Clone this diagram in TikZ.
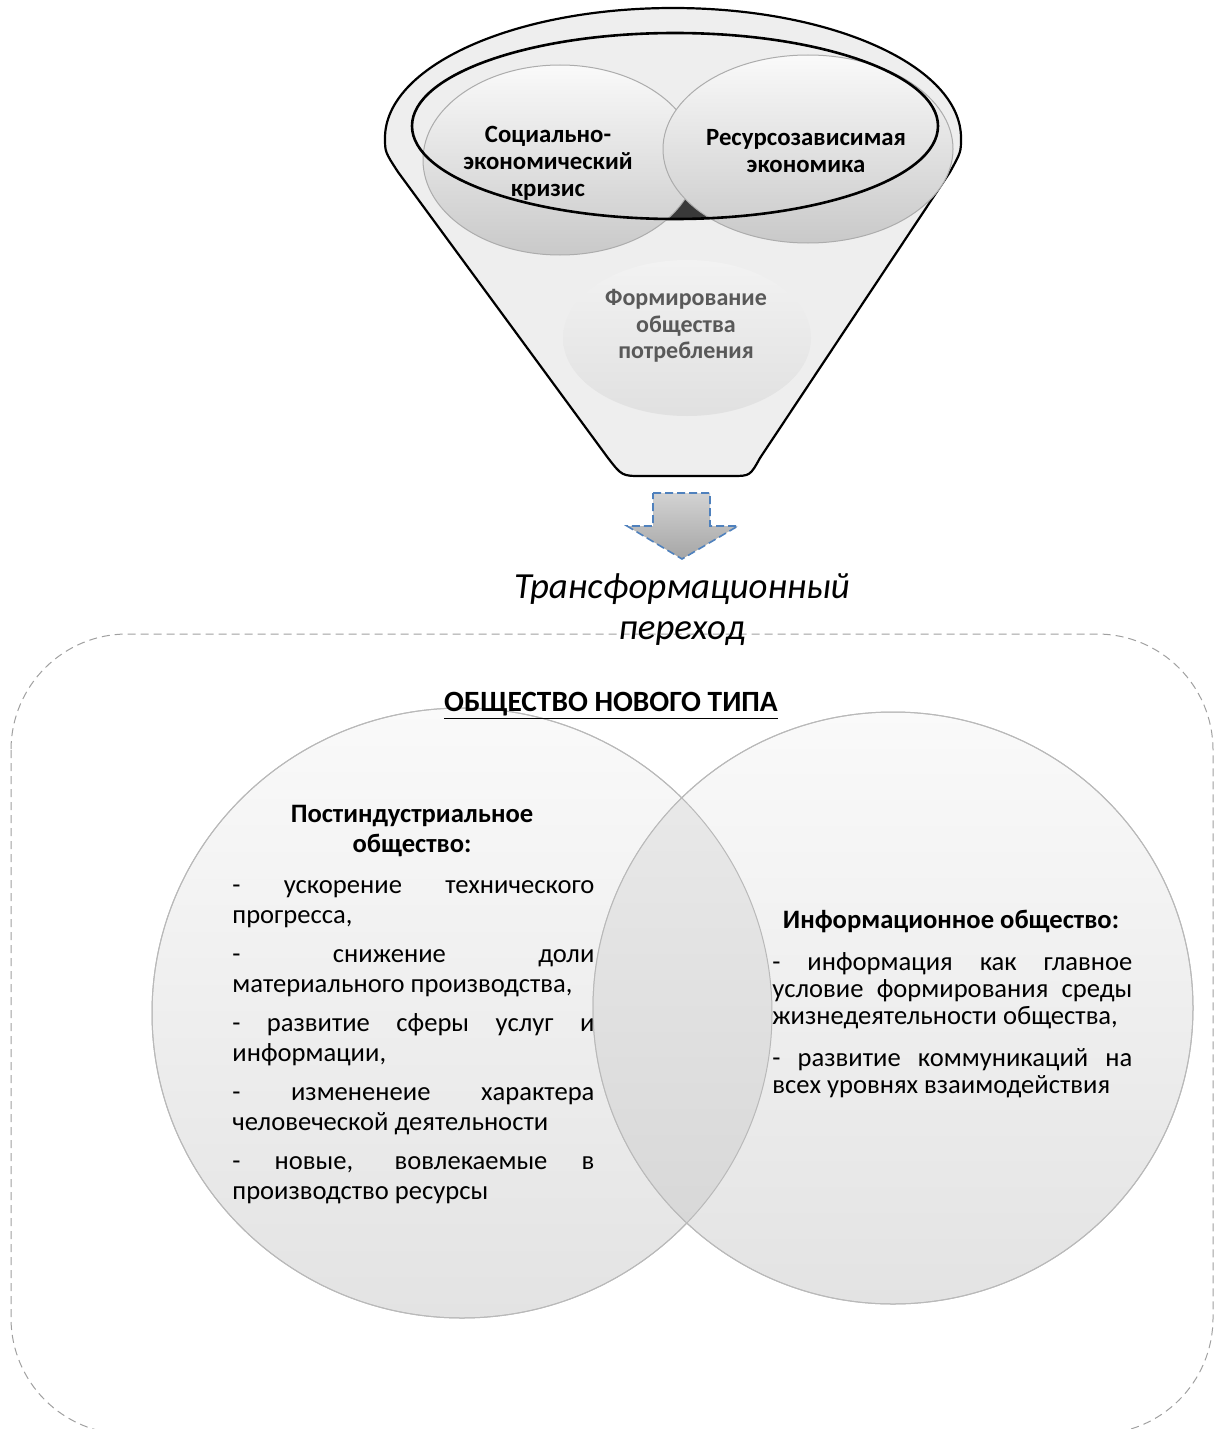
\documentclass[tikz,border=0pt]{standalone}
\usepackage{fontspec}
\setmainfont{Carlito}
\usetikzlibrary{positioning}

\definecolor{funnelgray}{HTML}{EEEEEE}
\definecolor{ballgray}{HTML}{C9C9C9}
\definecolor{textgray}{HTML}{595959}
\definecolor{dashgray}{HTML}{A0A0A0}
\definecolor{arrowblue}{HTML}{4F81BD}

\tikzset{
  funnelline/.style={draw=black, line width=1.1pt, line join=round},
  ball/.style={top color=gray!4, bottom color=ballgray, draw=gray!65, line width=0.5pt},
  balltext/.style={font=\fontsize{12.4}{13.5}\selectfont\bfseries, align=center},
  bigball/.style={top color=gray!4, bottom color=gray!22, draw=gray!55, line width=0.5pt},
  headtext/.style={font=\fontsize{13.3}{15}\selectfont\bfseries, align=center},
  bodytext/.style={font=\fontsize{13.3}{15}\selectfont, text width=181pt, align=justify, inner sep=0pt},
}

\begin{document}
\begin{tikzpicture}[x=0.5pt,y=-0.5pt]
\useasboundingbox (0,0) rectangle (1222,1429);
\hbadness=10000
% frame of the new society
\draw[dashgray, line width=0.5pt, dash pattern=on 4pt off 2.5pt, rounded corners=58pt]
  (11,634) rectangle (1213,1434);

% funnel
\filldraw[funnelline, fill=funnelgray] (385,138) arc[start angle=180, end angle=360, x radius=288, y radius=130]
  .. controls (961,152) .. (950,172) -- (760,458) .. controls (750,476) .. (732,476) -- (642,476)
  .. controls (622,476) .. (608,458) -- (398,172) .. controls (385,152) .. (385,138) -- cycle;
\begin{scope}
  \clip (675,126) ellipse [x radius=263, y radius=93];
  \fill[gray!45!black] (650,180) rectangle (720,230);
\end{scope}
\shade[ball] (560,160) ellipse [x radius=137, y radius=95];
\shade[ball] (808,149) ellipse [x radius=145, y radius=94];
\draw[black, line width=1.3pt] (675,126) ellipse [x radius=263, y radius=93];
\shade[top color=gray!10, bottom color=gray!24] (687,338) ellipse [x radius=124, y radius=78];

\node[balltext] (soccrisis) at (548,163) {Социально-\\экономический\\кризис};
\node[balltext] (resecon) at (806,151) {Ресурсозависимая\\экономика};
\node[balltext, font=\fontsize{12}{13.3}\selectfont\bfseries, text=textgray] (consum) at (686,326) {Формирование\\общества\\потребления};

% arrow
\shade[top color=gray!35, bottom color=gray!70, draw=arrowblue, line width=0.8pt, dash pattern=on 4pt off 2pt]
  (653,493) -- (710,493) -- (710,526) -- (738,526) -- (682,559) -- (627,526) -- (653,526) -- cycle;
\node[font=\fontsize{18.4}{20.5}\selectfont\itshape, align=center] (transit) at (682,610) {Трансформационный\\переход};

% the two societies
\shade[bigball] (462,1013) ellipse [x radius=310, y radius=305];
\shade[bigball] (893,1008) ellipse [x radius=300, y radius=296];
\begin{scope}
  \clip (462,1013) ellipse [x radius=310, y radius=305];
  \shade[top color=gray!15, bottom color=gray!33] (893,1008) ellipse [x radius=300, y radius=296];
\end{scope}
\draw[gray!55, line width=0.5pt] (462,1013) ellipse [x radius=310, y radius=305];
\draw[gray!55, line width=0.5pt] (893,1008) ellipse [x radius=300, y radius=296];

\node[font=\fontsize{14.7}{16}\selectfont\bfseries, anchor=base] (newtype) at (611,711) {\underline{ОБЩЕСТВО НОВОГО ТИПА}};

\node[headtext] (postind) at (412,831) {Постиндустриальное\\общество:};
\node[bodytext, anchor=north west] (postlist) at (232,872) {\setlength\parindent{0pt}\setlength\parskip{4.5pt}%
\strut- ускорение технического\linebreak прогресса,\par
- снижение доли\linebreak материального производства,\par
- развитие сферы услуг и\linebreak информации,\par
- измененеие характера\linebreak человеческой деятельности\par
- новые, вовлекаемые в\linebreak производство ресурсы};

\node[headtext] (infosoc) at (951,921) {Информационное общество:};
\node[bodytext, text width=180pt, font=\fontsize{13.3}{13.5}\selectfont, anchor=north west] (infolist) at (772,951) {\setlength\parindent{0pt}\setlength\parskip{7.5pt}%
\strut- информация как главное\linebreak условие формирования среды\linebreak жизнедеятельности общества,\par
- развитие коммуникаций на\linebreak всех уровнях взаимодействия};
\end{tikzpicture}
\end{document}
